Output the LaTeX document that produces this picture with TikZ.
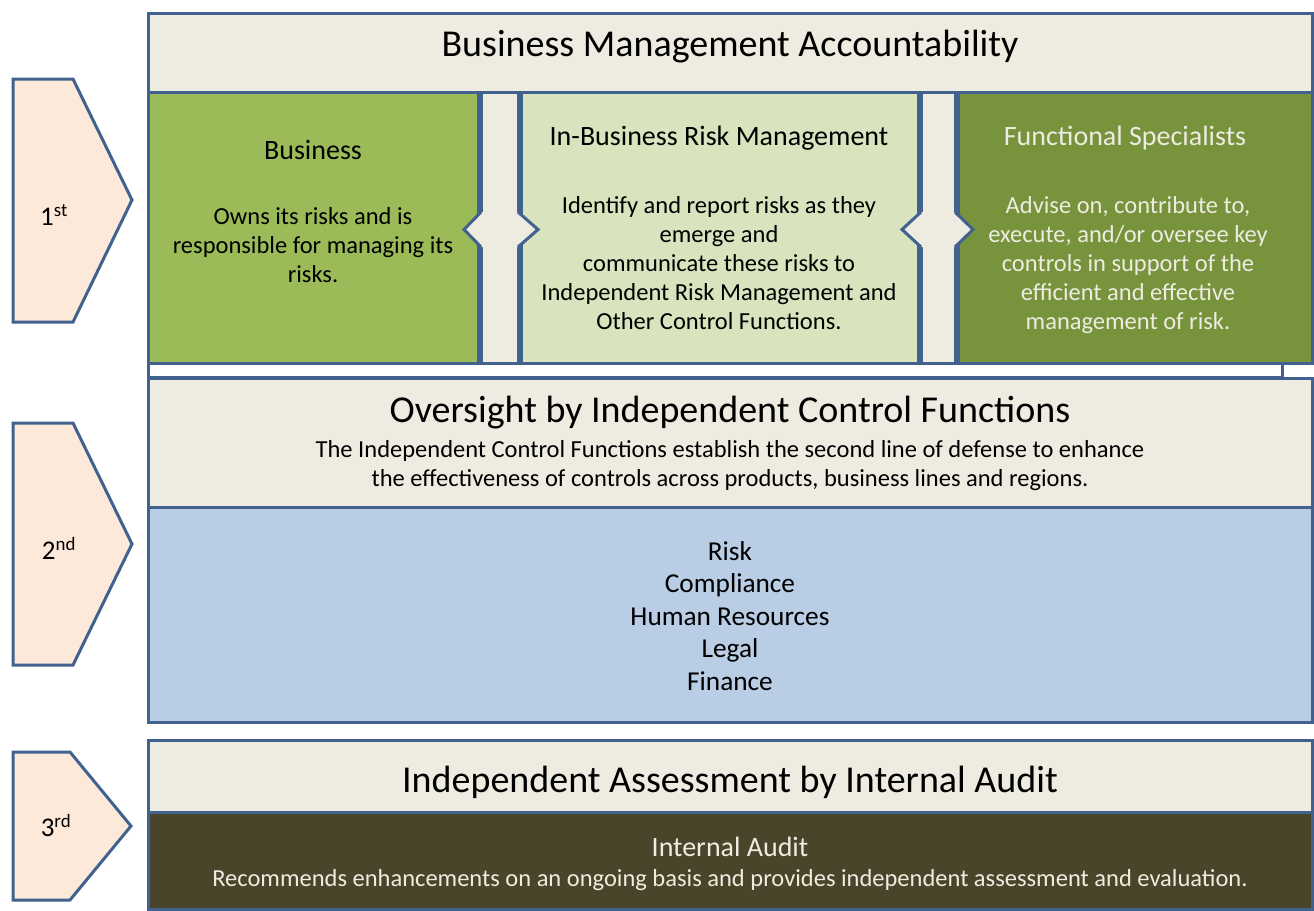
\documentclass[tikz,border=0pt]{standalone}
\usepackage{fontspec}
\setmainfont{Carlito}
\definecolor{bord}{HTML}{41628F}
\definecolor{beige}{HTML}{EEECE1}
\definecolor{grnA}{HTML}{9BBB59}
\definecolor{grnB}{HTML}{D7E4BD}
\definecolor{grnC}{HTML}{77933C}
\definecolor{bluA}{HTML}{B9CDE5}
\definecolor{brnA}{HTML}{4A452A}
\definecolor{peach}{HTML}{FDE9D9}
\definecolor{cream}{HTML}{EEECE1}
\begin{document}
\begin{tikzpicture}[x=1pt,y=-1pt,
  box/.style={draw=bord, line width=3pt},
  chev/.style={draw=bord, line width=3pt, fill=peach, line join=miter},
  ttl/.style={inner sep=0pt, font=\fontsize{38}{45}\selectfont},
  hdg/.style={inner sep=0pt, font=\fontsize{28}{33}\selectfont},
  bdy/.style={inner sep=0pt, align=center, font=\fontsize{24.5}{29}\selectfont},
  itm/.style={inner sep=0pt, align=center, font=\fontsize{27.3}{32.5}\selectfont},
  lbl/.style={inner sep=0pt, font=\fontsize{27}{30}\selectfont}]
\useasboundingbox (0,0) rectangle (1314,910);
\fill[white] (0,0) rectangle (1314,910);

% ---------- section 1 ----------
\draw[box, fill=white] (148,13) rectangle (1282,377);
\draw[box, fill=beige] (148,13) rectangle (1312,92);
\draw[box, fill=grnA] (148,92) rectangle (478,363);
\draw[box, fill=beige] (481,92) rectangle (518,363);
\draw[box, fill=grnB] (521,92) rectangle (918,363);
\draw[box, fill=beige] (921,92) rectangle (955,363);
\draw[box, fill=grnC] (958,92) rectangle (1312,363);

% double arrows across the gap columns
\fill[beige] (464,229.5) -- (481,212) -- (518,212) -- (538,229.5) -- (518,247) -- (481,247) -- cycle;
\draw[bord, line width=3pt, line join=miter] (481,212) -- (464,229.5) -- (481,247);
\draw[bord, line width=3pt, line join=miter] (518,212) -- (538,229.5) -- (518,247);
\fill[beige] (902,229.5) -- (921,212) -- (955,212) -- (973,229.5) -- (955,247) -- (921,247) -- cycle;
\draw[bord, line width=3pt, line join=miter] (921,212) -- (902,229.5) -- (921,247);
\draw[bord, line width=3pt, line join=miter] (955,212) -- (973,229.5) -- (955,247);

\node[ttl] (t1) at (730,47) {Business Management Accountability};
\node[hdg] (bizh) at (313,150) {Business};
\node[bdy] (bizb) at (313,245.5) {Owns its risks and is\\responsible  for managing its\\risks.};
\node[hdg] (ibh) at (719,138) {In-Business  Risk Management};
\node[bdy] (ibb) at (719,263.5) {Identify and report risks as they\\emerge and\\communicate these risks to\\Independent  Risk Management  and\\Other Control Functions.};
\node[hdg, text=cream] (fsh) at (1125,138) {Functional Specialists};
\node[bdy, text=cream] (fsb) at (1128,265.5) {Advise on, contribute to,\\execute, and/or oversee key\\controls in support of the\\efficient and effective\\management of risk.};

% ---------- section 2 ----------
\draw[box, fill=beige] (148,378) rectangle (1312,507);
\draw[box, fill=bluA] (148,507) rectangle (1312,722);
\node[ttl] (t2) at (730,413) {Oversight by Independent Control Functions};
\node[bdy] (t2b) at (730,466) {The Independent  Control Functions establish the second line of defense to enhance\\the effectiveness of controls across products, business lines and regions.};
\node[itm] (t2i) at (730,616) {Risk\\Compliance\\Human Resources\\Legal\\Finance};

% ---------- section 3 ----------
\draw[box, fill=beige] (148,740) rectangle (1312,812);
\draw[box, fill=brnA] (148,812) rectangle (1312,909);
\node[ttl] (t3) at (730,782) {Independent Assessment by Internal Audit};
\node[hdg, text=cream] (t3h) at (730,847) {Internal  Audit};
\node[bdy, text=cream] (t3b) at (730,880) {Recommends enhancements  on an ongoing basis and provides independent  assessment and evaluation.};

% ---------- chevrons ----------
\draw[chev] (13,79) -- (73,79) -- (132,200) -- (73,322) -- (13,322) -- cycle;
\draw[chev] (13,423) -- (73,423) -- (132,544) -- (73,665) -- (13,665) -- cycle;
\draw[chev] (13,752) -- (70,752) -- (131,826) -- (70,900) -- (13,900) -- cycle;
\node[lbl] (c1) at (54,215) {1\textsuperscript{st}};
\node[lbl] (c2) at (59,548) {2\textsuperscript{nd}};
\node[lbl] (c3) at (56,826) {3\textsuperscript{rd}};
\end{tikzpicture}
\end{document}
